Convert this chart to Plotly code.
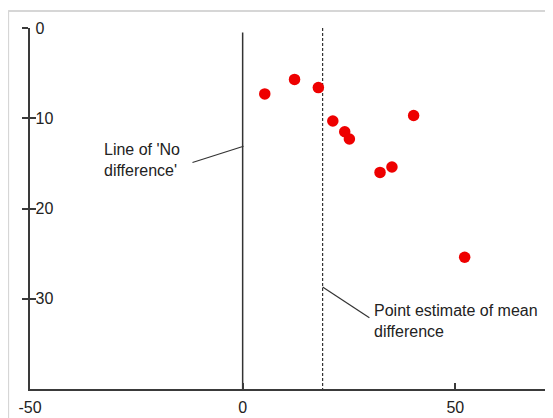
import plotly.graph_objects as go

# Data
diff_x = [5.2, 12.2, 17.8, 21.2, 24.0, 25.1, 32.3, 35.1, 40.2, 52.2]
diff_y = [7.3, 5.7, 6.6, 10.3, 11.5, 12.3, 16.0, 15.4, 9.7, 25.4]
no_difference = 0
mean_difference = 18.8
x_ticks = [-50, 0, 50]
y_ticks = [0, 10, 20, 30]
x_range = [-50, 72.5]
y_range = [40, 0]

FONT = "Arial, Liberation Sans, sans-serif"
AX = "#3a3a3a"
FS = 16

fig = go.Figure()

# Line of no difference
fig.add_trace(go.Scatter(x=[no_difference, no_difference], y=[0.5, y_range[0]],
                         mode="lines", line=dict(color="#333333", width=1.5),
                         hoverinfo="skip", showlegend=False))
# Point estimate of mean difference
fig.add_trace(go.Scatter(x=[mean_difference, mean_difference], y=[0, y_range[0]],
                         mode="lines", line=dict(color="#333333", width=1.2, dash="3px,2px"),
                         hoverinfo="skip", showlegend=False))
# Points
fig.add_trace(go.Scatter(x=diff_x, y=diff_y, mode="markers",
                         marker=dict(color="#ee0000", size=11.5, line=dict(width=0)),
                         showlegend=False))

# Annotation connectors
fig.add_shape(type="line", xref="x", yref="y", x0=-11.8, y0=14.9, x1=0.2, y1=13.1,
              line=dict(color="#333333", width=1.2))
fig.add_shape(type="line", xref="x", yref="y", x0=mean_difference, y0=28.7, x1=29.8, y1=32.1,
              line=dict(color="#333333", width=1.2))

fig.add_annotation(x=-33.1, y=14.6, xref="x", yref="y", xanchor="left", yanchor="middle",
                   align="left", showarrow=False,
                   text="Line of 'No<br>difference'",
                   font=dict(family=FONT, size=FS, color="#222222"))
fig.add_annotation(x=30.4, y=32.5, xref="x", yref="y", xanchor="left", yanchor="middle",
                   align="left", showarrow=False,
                   text="Point estimate of mean<br>difference",
                   font=dict(family=FONT, size=FS, color="#222222"))

# Light frame (top and left edges)
fig.add_shape(type="line", xref="paper", yref="paper", x0=-0.042, y0=1.047, x1=1.03, y1=1.047,
              line=dict(color="#d6d6d6", width=2))
fig.add_shape(type="line", xref="paper", yref="paper", x0=-0.042, y0=1.047, x1=-0.042, y1=-0.12,
              line=dict(color="#d6d6d6", width=2))

# Page body has an 8px default margin; margins compensate so the plot area lands as in the reference
fig.update_layout(
    width=553, height=418,
    margin=dict(l=22, r=10, t=20, b=37),
    paper_bgcolor="white", plot_bgcolor="white",
    font=dict(family=FONT, size=FS, color="#222222"),
    xaxis=dict(range=x_range, tickvals=x_ticks, ticktext=[str(v) for v in x_ticks],
               showgrid=False, zeroline=False, showline=True, linecolor=AX, linewidth=1.5,
               ticks="inside", ticklen=6, tickcolor=AX, tickwidth=1.5, automargin=False,
               ticklabeloverflow="allow", ticklabelstandoff=3,
               tickfont=dict(size=FS, color="#222222")),
    yaxis=dict(range=y_range, tickvals=y_ticks, ticktext=[str(v) for v in y_ticks],
               showgrid=False, zeroline=False, showline=True, linecolor=AX, linewidth=1.5,
               ticks="outside", ticklen=6, tickcolor=AX, tickwidth=1.5, automargin=False,
               ticklabelposition="inside", ticklabeloverflow="allow", ticklabelstandoff=6,
               tickfont=dict(size=FS, color="#222222")),
    yaxis2=dict(range=y_range, overlaying="y", tickvals=y_ticks, showticklabels=False,
                showgrid=False, zeroline=False, showline=False, automargin=False,
                ticks="inside", ticklen=6, tickcolor=AX, tickwidth=1.5, side="left"),
)
# invisible trace to activate yaxis2 ticks
fig.add_trace(go.Scatter(x=[None], y=[None], yaxis="y2", showlegend=False, hoverinfo="skip"))

fig.write_html("out.html")
